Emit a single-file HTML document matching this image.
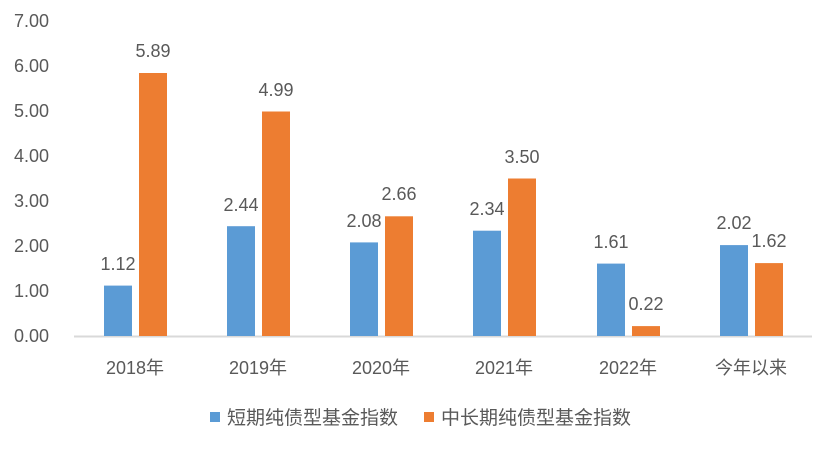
<!DOCTYPE html>
<html><head><meta charset="utf-8"><style>
body{margin:0;background:#fff}
svg text{font-family:"Liberation Sans","Noto Sans CJK SC",sans-serif;fill:#595959;font-size:18px}
</style></head><body>
<svg width="836" height="449" xmlns="http://www.w3.org/2000/svg">
<g text-anchor="end">
<text x="49" y="342">0.00</text><text x="49" y="297">1.00</text><text x="49" y="252">2.00</text><text x="49" y="207">3.00</text><text x="49" y="162">4.00</text><text x="49" y="117">5.00</text><text x="49" y="72">6.00</text><text x="49" y="27">7.00</text>
</g>
<line x1="74" y1="336.5" x2="812" y2="336.5" stroke="#d9d9d9" stroke-width="2"/>
<g fill="#5b9bd5">
<rect x="104" y="285.6" width="28" height="50.4"/>
<rect x="227" y="226.2" width="28" height="109.8"/>
<rect x="350" y="242.4" width="28" height="93.6"/>
<rect x="473" y="230.7" width="28" height="105.3"/>
<rect x="597" y="263.6" width="28" height="72.4"/>
<rect x="720" y="245.1" width="28" height="90.9"/>
</g>
<g fill="#ed7d31">
<rect x="139" y="73" width="28" height="263"/>
<rect x="262" y="111.5" width="28" height="224.5"/>
<rect x="385" y="216.3" width="28" height="119.7"/>
<rect x="508" y="178.5" width="28" height="157.5"/>
<rect x="632" y="326.1" width="28" height="9.9"/>
<rect x="755" y="263.1" width="28" height="72.9"/>
</g>
<g text-anchor="middle">
<text x="118" y="270">1.12</text><text x="153" y="57">5.89</text>
<text x="241" y="211">2.44</text><text x="276" y="96">4.99</text>
<text x="364" y="227">2.08</text><text x="399" y="200">2.66</text>
<text x="487" y="215">2.34</text><text x="522" y="163">3.50</text>
<text x="611" y="248">1.61</text><text x="646" y="310">0.22</text>
<text x="734" y="229">2.02</text><text x="769" y="247">1.62</text>
<text x="135" y="374">2018年</text><text x="258" y="374">2019年</text><text x="381" y="374">2020年</text><text x="504" y="374">2021年</text><text x="628" y="374">2022年</text><text x="751" y="374">今年以来</text>
</g>
<rect x="210" y="412" width="10" height="10" fill="#5b9bd5"/>
<text x="227" y="424" style="font-size:19px">短期纯债型基金指数</text>
<rect x="424" y="412" width="10" height="10" fill="#ed7d31"/>
<text x="441" y="424" style="font-size:19px">中长期纯债型基金指数</text>
</svg>
</body></html>
